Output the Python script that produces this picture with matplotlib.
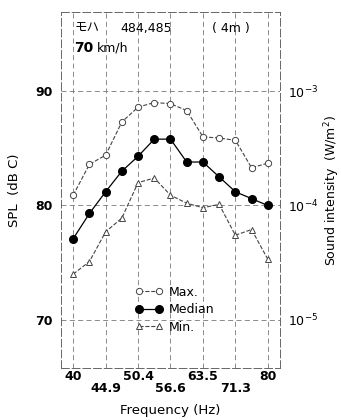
import numpy as np
import matplotlib.pyplot as plt

plt.rcParams['font.family'] = ['DejaVu Sans', 'Noto Sans CJK JP']

# 1/12-octave steps between 40 and 80 Hz
freq_labels = ["40", "44.9", "50.4", "56.6", "63.5", "71.3", "80"]
spl_max = [80.9, 83.6, 84.4, 87.3, 88.6, 89.0, 88.9, 88.3, 86.0, 85.9, 85.7, 83.3, 83.7]
spl_median = [77.1, 79.3, 81.2, 83.0, 84.3, 85.8, 85.8, 83.8, 83.8, 82.5, 81.2, 80.6, 80.0]
spl_min = [74.0, 75.1, 77.7, 78.9, 82.0, 82.4, 80.9, 80.2, 79.8, 80.1, 77.4, 77.9, 75.3]
intensity_ticks = [1e-5, 1e-4, 1e-3]
intensity_labels = [r"$10^{-5}$", r"$10^{-4}$", r"$10^{-3}$"]

x = np.arange(len(spl_median))
ylim = (65.8, 96.9)

fig = plt.figure(figsize=(3.41, 4.20), dpi=100)
ax = fig.add_axes([0.179, 0.124, 0.642, 0.847])

ax.plot(x, spl_max, '--', color='#444444', lw=0.8, marker='o', ms=4.5,
        mfc='white', mec='#444444', mew=0.7, label='Max.')
ax.plot(x, spl_median, '-', color='black', lw=0.9, marker='o', ms=5.5,
        mfc='black', mec='black', label='Median')
ax.plot(x, spl_min, '--', color='#444444', lw=0.8, marker='^', ms=5,
        mfc='white', mec='#444444', mew=0.7, label='Min.')

ax.set_xlim(-0.75, 12.75)
ax.set_ylim(*ylim)
ax.set_xticks(x[::2])
ax.set_xticklabels([])
ax.set_yticks([70, 80, 90])
ax.set_yticklabels(["70", "80", "90"], fontweight='bold', fontsize=9)
ax.tick_params(length=0, pad=6)
ax.grid(True, ls=(0, (6, 4)), lw=0.6, color='#777777')
for s in ax.spines.values():
    s.set_linestyle((0, (8, 3)))
    s.set_linewidth(0.7)
    s.set_color('#666666')

# two-row frequency labels
for i, lab in enumerate(freq_labels):
    row = 0 if i % 2 == 0 else 1
    ax.annotate(lab, xy=(x[2 * i], 0), xycoords=('data', 'axes fraction'),
                xytext=(0, -6 - row * 9), textcoords='offset points',
                ha='center', va='center', fontsize=9, fontweight='bold')

ax.set_xlabel("Frequency (Hz)", fontsize=9.5, labelpad=20)
ax.set_ylabel("SPL  (dB C)", fontsize=9.5, labelpad=10)

ax2 = ax.twinx()
ax2.set_yscale('log')
ax2.set_ylim(10 ** ((ylim[0] - 120) / 10), 10 ** ((ylim[1] - 120) / 10))
ax2.set_yticks(intensity_ticks)
ax2.set_yticklabels(intensity_labels, fontsize=9, fontweight='bold')
ax2.minorticks_off()
ax2.tick_params(length=0, pad=6)
ax2.set_ylabel(r"Sound intensity  (W/m$^2$)", fontsize=9, labelpad=3)
for s in ax2.spines.values():
    s.set_visible(False)

cjk = ['Noto Sans CJK JP', 'DejaVu Sans']
ax.text(0.06, 0.955, "モハ", transform=ax.transAxes, fontsize=9,
        family=cjk, va='center')
ax.text(0.27, 0.955, "484,485", transform=ax.transAxes, fontsize=9, va='center')
ax.text(0.69, 0.955, "( 4m )", transform=ax.transAxes, fontsize=9, va='center')
ax.text(0.06, 0.9, "70", transform=ax.transAxes, fontsize=10,
        fontweight='bold', va='center')
ax.text(0.165, 0.9, "km/h", transform=ax.transAxes, fontsize=9, va='center')

leg = ax.legend(loc='lower center', bbox_to_anchor=(0.52, 0.065), frameon=False,
                fontsize=9, handlelength=2.2, labelspacing=0.35,
                handletextpad=0.5, numpoints=2)

fig.savefig("out.png", dpi=100)
